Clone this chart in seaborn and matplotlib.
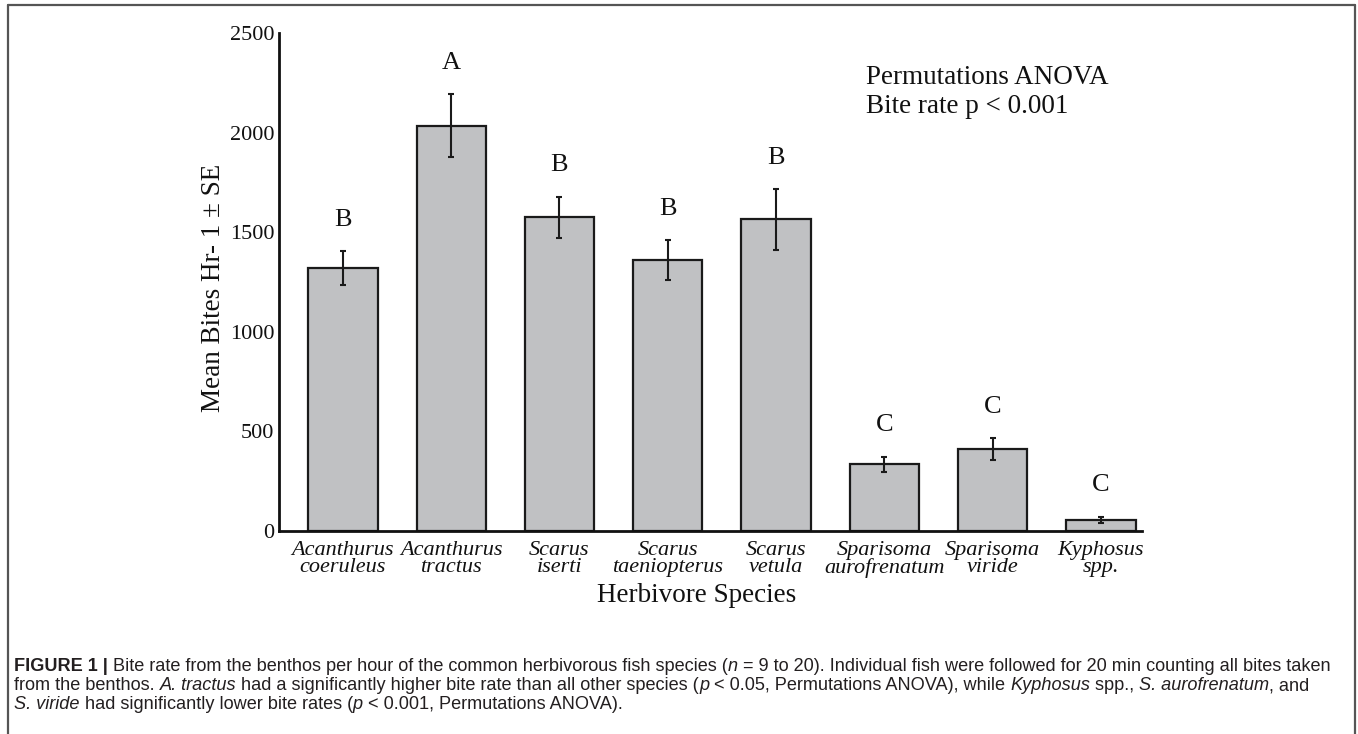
import matplotlib
matplotlib.use("Agg")
import matplotlib.pyplot as plt
from matplotlib.transforms import IdentityTransform
from matplotlib.lines import Line2D
import numpy as np
import pandas as pd
import seaborn as sns

# ---- data -------------------------------------------------------------
species = [
    "Acanthurus\ncoeruleus",
    "Acanthurus\ntractus",
    "Scarus\niserti",
    "Scarus\ntaeniopterus",
    "Scarus\nvetula",
    "Sparisoma\naurofrenatum",
    "Sparisoma\nviride",
    "Kyphosus\nspp.",
]
mean_bites = [1320, 2035, 1575, 1360, 1565, 335, 410, 57]
se_bites = [85, 160, 103, 100, 152, 38, 55, 15]
groups = ["B", "A", "B", "B", "B", "C", "C", "C"]
y_ticks = [0, 500, 1000, 1500, 2000, 2500]

df = pd.DataFrame({"species": species, "bites": mean_bites})

# ---- style ------------------------------------------------------------
sns.set_theme(style="white")
plt.rcParams["font.family"] = ["Liberation Serif", "DejaVu Serif"]

W, H = 1358, 734
fig = plt.figure(figsize=(W / 100, H / 100), dpi=100)
ax = fig.add_axes([279 / W, 1 - 531 / H, (1142 - 279) / W, (531 - 33) / H])

sns.barplot(data=df, x="species", y="bites", order=species, color="#c0c1c3",
            saturation=1, width=0.64, edgecolor="#1a1a1a", linewidth=1.6,
            errorbar=None, ax=ax)

xpos = np.arange(len(species))
ax.errorbar(xpos, mean_bites, yerr=se_bites, fmt="none", ecolor="#1a1a1a",
            elinewidth=1.5, capsize=2.5, capthick=1.5, zorder=5)

# significance letters above each error bar
for x, m, s, g in zip(xpos, mean_bites, se_bites, groups):
    ax.annotate(g, (x, m + s), xytext=(0, 22.5), textcoords="offset points",
                ha="center", va="center", fontsize=19, color="#111111")

ax.set_xlim(-0.59, 7.38)
ax.set_ylim(0, 2500)
ax.set_yticks(y_ticks)
ax.set_yticklabels([str(v) for v in y_ticks], fontsize=16, color="#111111")
ax.tick_params(axis="both", length=0)
ax.tick_params(axis="y", pad=3.5)
ax.tick_params(axis="x", pad=7)
for lab in ax.get_xticklabels():
    lab.set_fontstyle("italic")
    lab.set_fontsize(16)
    lab.set_linespacing(0.88)
    lab.set_color("#111111")

for side in ["top", "right"]:
    ax.spines[side].set_visible(False)
for side in ["left", "bottom"]:
    ax.spines[side].set_linewidth(2)
    ax.spines[side].set_color("#111111")

ax.set_xlabel("")
ax.set_ylabel("")
fig.text(697 / W, 1 - 596 / H, "Herbivore Species", ha="center", va="center",
         fontsize=19.5, color="#111111")
fig.text(213 / W, 1 - 288 / H, "Mean Bites Hr- 1 \u00b1 SE", ha="center",
         va="center", rotation=90, fontsize=19.5, color="#111111")

fig.text(866 / W, 1 - 92 / H, "Permutations ANOVA\nBite rate p < 0.001",
         ha="left", va="center", fontsize=19.5, linespacing=1.25,
         color="#111111")

# ---- outer frame (open at the bottom) ---------------------------------
frame_kw = dict(transform=IdentityTransform(), color="#555555", lw=1.6)
fig.add_artist(Line2D([8, 8], [0, H - 4.5], **frame_kw))
fig.add_artist(Line2D([8, 1355], [H - 4.5, H - 4.5], **frame_kw))
fig.add_artist(Line2D([1355, 1355], [0, H - 4.5], **frame_kw))

# ---- caption with mixed styles ----------------------------------------
cap_font = ["Liberation Sans", "DejaVu Sans"]
cap_size = 13.1
cap_color = "#231f20"
renderer = fig.canvas.get_renderer()


def piece_width(text, weight, style):
    probe = fig.text(0, 0, "x" + text + "x", fontsize=cap_size, family=cap_font,
                     fontweight=weight, fontstyle=style,
                     transform=IdentityTransform())
    ref = fig.text(0, 0, "xx", fontsize=cap_size, family=cap_font,
                   fontweight=weight, fontstyle=style,
                   transform=IdentityTransform())
    w = probe.get_window_extent(renderer).width - ref.get_window_extent(renderer).width
    probe.remove()
    ref.remove()
    return w


def rich_line(x, y, parts):
    for text, kind in parts:
        weight = "bold" if kind == "b" else "normal"
        style = "italic" if kind == "i" else "normal"
        fig.text(x, y, text, fontsize=cap_size, family=cap_font, fontweight=weight,
                 fontstyle=style, color=cap_color, ha="left", va="baseline",
                 transform=IdentityTransform())
        x += piece_width(text, weight, style)


caption = [
    [("FIGURE 1 |", "b"),
     (" Bite rate from the benthos per hour of the common herbivorous fish species (", "r"),
     ("n", "i"),
     (" = 9 to 20). Individual fish were followed for 20 min counting all bites taken", "r")],
    [("from the benthos. ", "r"), ("A. tractus", "i"),
     (" had a significantly higher bite rate than all other species (", "r"),
     ("p", "i"), (" < 0.05, Permutations ANOVA), while ", "r"), ("Kyphosus", "i"),
     (" spp., ", "r"), ("S. aurofrenatum", "i"), (", and", "r")],
    [("S. viride", "i"), (" had significantly lower bite rates (", "r"), ("p", "i"),
     (" < 0.001, Permutations ANOVA).", "r")],
]
for i, parts in enumerate(caption):
    rich_line(14, H - (671 + 19.2 * i), parts)

fig.savefig("out.png", dpi=100)
